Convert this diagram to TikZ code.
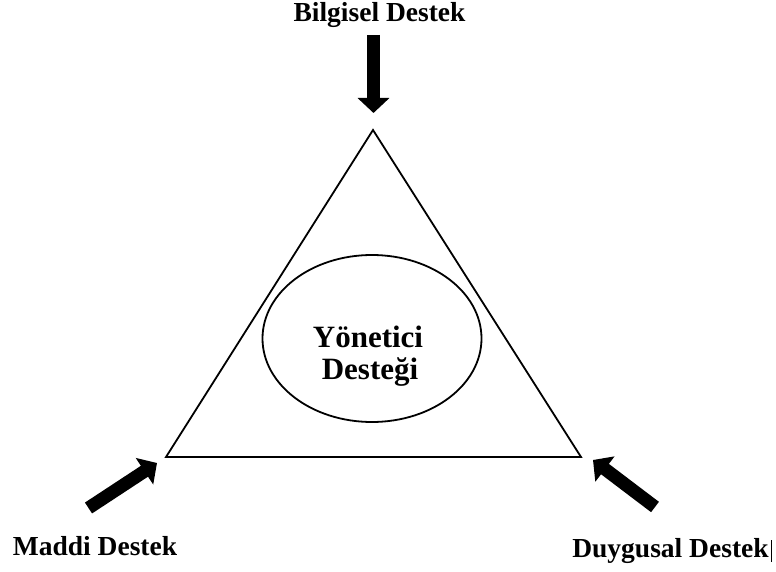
\documentclass[tikz,border=0pt]{standalone}
\usepackage{fontspec}
\setmainfont{Liberation Serif}
\usetikzlibrary{arrows.meta,shapes.geometric}
\begin{document}
\begin{tikzpicture}[x=1pt,y=-1pt,
  outline/.style={draw=black,line width=1.8pt,line join=miter},
  label/.style={font=\fontsize{27.5}{30}\selectfont\bfseries,anchor=base,inner sep=0pt},
  centertext/.style={font=\fontsize{31}{32}\selectfont\bfseries,anchor=base,inner sep=0pt},
  blockarrow/.style={line width=13pt,-{Triangle[width=31pt,length=15pt]}}]
\useasboundingbox (0,0) rectangle (776,572);
% triangle vertices
\coordinate (A) at (373,130);
\coordinate (L) at (166,457);
\coordinate (R) at (581,457);
\draw[outline] (A) -- (L) -- (R) -- cycle;
% ellipse
\node[outline,ellipse,minimum width=219pt,minimum height=167pt,inner sep=0pt] (E) at (372,338.5) {};
\node[centertext] (t1) at (368,347) {Yönetici};
\node[centertext] (t2) at (370,379) {Desteği};
% labels
\node[label] (bil) at (379.5,22) {Bilgisel Destek};
\node[label] (mad) at (95,555) {Maddi Destek};
\node[label] (duy) at (670.5,557) {Duygusal Destek};
% arrows
\coordinate (topS) at (373.5,35);
\coordinate (topE) at (373.5,113);
\coordinate (lS) at (88.5,508);
\coordinate (lE) at (157,463);
\coordinate (rS) at (655,507);
\coordinate (rE) at (593,460);
\draw[blockarrow] (topS) -- (topE);
\draw[blockarrow] (lS) -- (lE);
\draw[blockarrow] (rS) -- (rE);
% cursor mark
\coordinate (c1) at (771.5,540);
\coordinate (c2) at (771.5,562);
\draw[line width=0.8pt] (c1) -- (c2);
\end{tikzpicture}
\end{document}
